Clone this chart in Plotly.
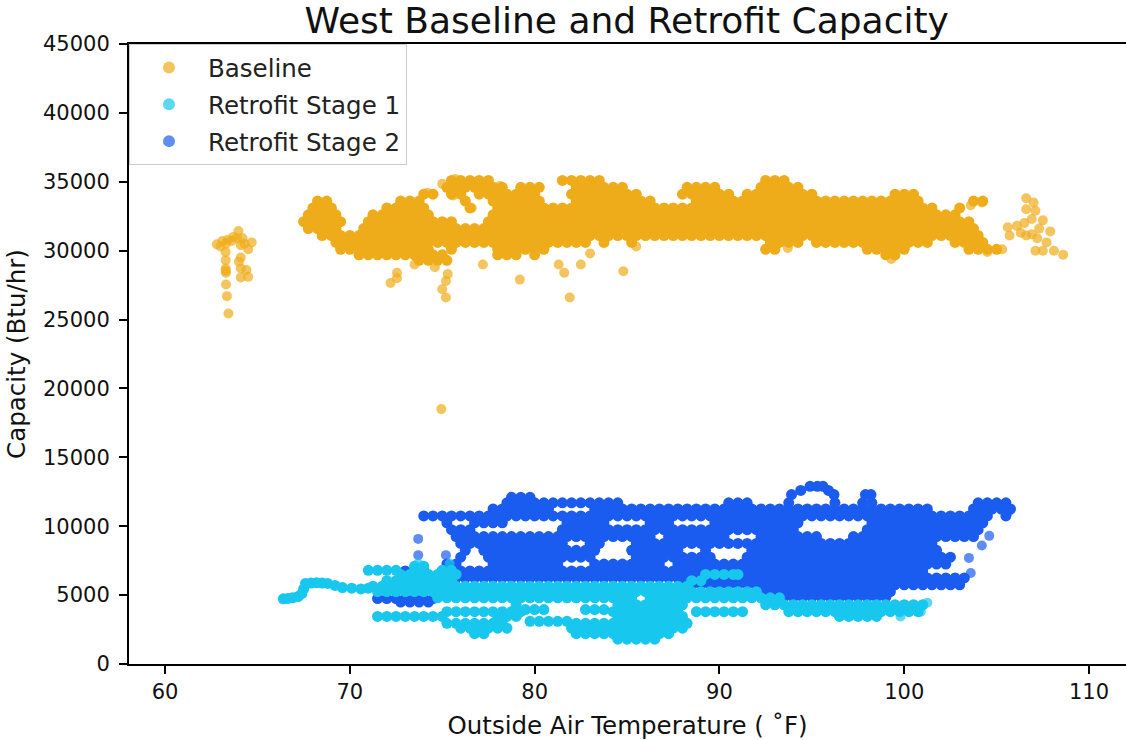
import plotly.graph_objects as go

BASE = "#EFAC1A"
CYAN = "#17C7EE"
BLUE = "#1B5CF0"

baseline_rows = [
 (35100,[75.5,76.0,76.5,77.0,77.5,81.5,82.0,82.5,83.0,83.5,92.5,93.0,93.5]),
 (34600,[75.25,75.75,76.25,76.75,77.25,77.75,78.25,79.25,79.75,80.25,82.25,82.75,83.25,83.75,84.25,84.75,88.25,88.75,89.25,89.75,92.25,92.75,93.25,93.75,94.25]),
 (34100,[74.0,74.5,75.5,76.0,77.0,77.5,78.0,78.5,79.0,79.5,80.0,82.0,82.5,83.0,83.5,84.0,84.5,85.0,85.5,88.0,88.5,89.0,89.5,90.0,90.5,91.5,92.0,92.5,93.0,93.5,94.0,94.5,95.0,99.5,100.0,100.5]),
 (33600,[68.25,68.75,72.75,73.25,73.75,76.25,77.75,78.25,78.75,79.25,79.75,80.25,82.25,82.75,83.25,83.75,84.25,84.75,85.25,85.75,86.25,88.75,89.25,89.75,90.25,90.75,91.25,91.75,92.25,92.75,93.25,93.75,94.25,94.75,95.25,95.75,96.25,96.75,97.25,97.75,98.25,98.75,99.25,99.75,100.25,100.75,103.75,104.25]),
 (33100,[68.0,68.5,69.0,72.0,72.5,73.0,73.5,74.0,76.5,78.0,78.5,79.0,79.5,80.0,80.5,81.0,81.5,82.0,82.5,83.0,83.5,84.0,84.5,85.0,85.5,86.0,86.5,87.0,87.5,88.0,88.5,89.0,89.5,90.0,90.5,91.0,91.5,92.0,92.5,93.0,93.5,94.0,94.5,95.0,95.5,96.0,96.5,97.0,97.5,98.0,98.5,99.0,99.5,100.0,100.5,101.0,101.5,103.0]),
 (32600,[67.75,68.25,68.75,69.25,71.25,71.75,72.25,72.75,73.25,73.75,74.25,77.75,78.25,78.75,79.25,79.75,80.25,80.75,81.25,81.75,82.25,82.75,83.25,83.75,84.25,84.75,85.25,85.75,86.25,86.75,87.25,87.75,88.25,88.75,89.25,89.75,90.25,90.75,91.25,91.75,92.25,92.75,93.25,93.75,94.25,94.75,95.25,95.75,96.25,96.75,97.25,97.75,98.25,98.75,99.25,99.75,100.25,100.75,101.25,101.75,102.25,102.75]),
 (32100,[67.5,68.0,68.5,69.0,69.5,71.0,71.5,72.0,72.5,73.0,73.5,74.0,74.5,75.0,75.5,77.5,78.0,78.5,79.0,79.5,80.0,80.5,81.0,81.5,82.0,82.5,83.0,83.5,84.0,84.5,85.0,85.5,86.0,86.5,87.0,87.5,88.0,88.5,89.0,89.5,90.0,90.5,91.0,91.5,92.0,92.5,93.0,93.5,94.0,94.5,95.0,95.5,96.0,96.5,97.0,97.5,98.0,98.5,99.0,99.5,100.0,100.5,101.0,101.5,102.0,102.5,103.0,103.5]),
 (31600,[67.75,68.25,68.75,69.25,70.75,71.25,71.75,72.25,72.75,73.25,73.75,74.25,74.75,75.25,75.75,76.25,76.75,77.25,77.75,78.25,78.75,79.25,79.75,80.25,80.75,81.25,81.75,82.25,82.75,83.25,83.75,84.25,84.75,85.25,85.75,86.25,86.75,87.25,87.75,88.25,88.75,89.25,89.75,90.25,90.75,91.25,91.75,92.25,92.75,93.25,93.75,94.25,94.75,95.25,95.75,96.25,96.75,97.25,97.75,98.25,98.75,99.25,99.75,100.25,100.75,101.25,101.75,102.25,102.75,103.25,103.75]),
 (31100,[68.5,69.0,69.5,70.0,70.5,71.0,71.5,72.0,72.5,73.0,73.5,74.0,74.5,75.0,75.5,76.0,76.5,77.0,77.5,78.0,78.5,79.0,79.5,80.0,80.5,81.0,81.5,82.0,82.5,83.0,83.5,84.0,84.5,85.0,85.5,86.0,86.5,87.0,87.5,88.0,88.5,89.0,89.5,90.0,90.5,91.0,91.5,92.0,92.5,93.0,93.5,94.0,94.5,95.0,95.5,96.0,96.5,97.0,97.5,98.0,98.5,99.0,99.5,100.0,100.5,101.0,101.5,102.0,102.5,103.0,103.5,104.0]),
 (30600,[69.25,69.75,70.25,70.75,71.25,71.75,72.25,72.75,73.25,73.75,74.25,74.75,75.25,75.75,76.25,76.75,77.25,77.75,78.25,78.75,79.25,79.75,80.25,80.75,81.25,81.75,82.25,82.75,83.75,85.25,92.75,93.25,93.75,94.25,95.25,95.75,96.25,96.75,97.25,97.75,98.25,98.75,99.25,99.75,100.25,100.75,101.25,102.75,103.25,103.75,104.25]),
 (30100,[69.5,70.0,70.5,71.0,71.5,72.0,72.5,73.0,73.5,74.0,74.25,75.5,78.0,78.5,79.0,79.5,80.0,80.5,92.5,93.0,98.0,98.5,99.0,99.5,100.0,103.5,104.0,104.5,105.0]),
 (29700,[70.5,71.0,71.5,72.0,72.5,73.0,73.5,74.0,74.5,75.0,78.0,78.5,79.0,80.0,99.0,99.5]),
 (29300,[73.75,74.25,74.75,75.25]),
]
baseline_stray_x = [74.95,84.8,81.9,79.2,72.2,72.55,72.55,73.5,74.6,75.3,75.2,75.0,75.2,77.2,81.3,81.6,82.5,83.0,85.5,93.7,99.3,105.3,104.5,
 62.8,63.1,63.4,63.7,63.97,64.2,64.69,64.5,63.28,63.28,63.28,63.3,63.35,63.43,63.3,64.1,64.0,64.1,64.5,64.4,64.1,64.3,63.0,63.3,63.6,63.9,64.1,63.28,
 105.6,105.7,106.1,106.6,107.0,106.6,107.1,106.5,107.5,107.9,106.6,107.2,107.7,107.1,107.5,108.1,108.6,106.9,107.3,106.3,106.9,
 103.6,104.2,74.2,75.0,75.7,76.7,77.3,78.1,75.6,76.6,78.0]
baseline_stray_y = [18500,28500,26600,27900,27650,28000,28400,29000,28800,28300,27800,27200,26600,29000,29000,28400,29000,29800,30300,30200,29400,30100,29900,
 30470,30700,30800,31000,31430,30900,30600,30100,29900,29300,28700,28400,26700,25440,27550,28050,29200,29500,28100,28600,28700,30500,30300,30500,30700,30900,30400,28550,
 31700,31100,31800,33800,33500,33000,32900,32000,32200,31400,31100,30900,30600,30000,30000,30000,29700,32300,31600,31300,31200,
 33300,33500,34200,34850,35200,35000,35000,34700,34000,33100,33400]

stage2_rows = [
 (12900,[94.9,95.3,95.6]),
 (12600,[94.4,95.9]),
 (12300,[93.9,96.2,97.9,98.2]),
 (12100,[78.75,79.25,79.75]),
 (11700,[78.5,79.0,79.5,80.0,80.5,81.0,81.5,82.0,82.5,83.0,83.5,84.0,84.5,90.5,91.0,91.5,93.75,96.25,97.75,98.25,104.0,104.5,105.0,105.5]),
 (11250,[77.75,78.25,78.75,79.25,79.75,80.25,80.75,83.25,83.75,84.25,84.75,85.25,85.75,86.25,86.75,87.25,87.75,88.25,88.75,89.25,89.75,90.25,90.75,91.25,91.75,92.25,92.75,93.25,93.75,94.25,94.75,95.25,95.75,96.25,96.75,97.25,97.75,98.25,98.75,99.25,99.75,100.25,100.75,101.25,103.75,104.25,104.75,105.25,105.75]),
 (10750,[74.0,74.5,75.0,75.5,76.0,76.5,77.0,77.5,78.0,78.5,79.0,79.5,80.0,80.5,81.0,81.5,82.0,82.5,83.0,83.5,84.0,84.5,85.0,85.5,86.0,86.5,87.0,87.5,88.0,88.5,89.0,89.5,90.0,90.5,91.0,91.5,92.0,92.5,93.0,93.5,94.0,94.5,95.0,95.5,96.0,96.5,97.0,97.5,98.0,98.5,99.0,99.5,100.0,100.5,101.0,101.5,102.0,102.5,103.0,103.5,104.0,104.5,105.5]),
 (10250,[75.25,76.75,77.25,77.75,78.25,81.75,82.25,82.75,83.25,83.75,86.25,86.75,87.25,89.75,90.25,90.75,91.25,91.75,92.25,92.75,93.25,93.75,94.25,98.25,98.75,99.25,99.75,100.25,100.75,101.25,101.75,102.25,102.75,103.25,103.75,104.25]),
 (9750,[75.5,76.0,76.5,81.5,82.0,82.5,83.0,83.5,84.0,84.5,85.0,85.5,86.0,86.5,87.0,87.5,88.0,88.5,89.0,89.5,90.0,90.5,91.0,91.5,92.0,92.5,93.0,93.5,94.0,98.0,98.5,99.0,99.5,100.0,100.5,101.0,101.5,102.0,102.5,103.0,103.5,104.0]),
 (9250,[75.75,76.25,76.75,77.25,77.75,78.25,78.75,79.25,79.75,80.25,80.75,81.25,81.75,82.25,82.75,83.25,83.75,84.25,84.75,85.25,85.75,86.25,87.25,87.75,88.25,88.75,89.25,89.75,90.25,92.25,92.75,93.25,93.75,94.25,94.75,95.25,97.25,97.75,98.25,98.75,99.25,99.75,100.25,100.75,101.25,101.75,102.25,102.75,103.25,103.75]),
 (8750,[76.0,76.5,77.0,77.5,78.0,78.5,79.0,79.5,80.0,80.5,81.0,81.5,83.0,83.5,85.5,86.0,86.5,87.0,87.5,88.0,88.5,89.0,89.5,90.0,90.5,91.0,91.5,92.0,92.5,93.0,93.5,94.0,94.5,95.0,95.5,96.0,96.5,97.0,97.5,98.0,98.5,99.0,99.5,100.0,100.5,101.0,101.5]),
 (8250,[76.25,77.25,77.75,78.25,78.75,79.25,79.75,80.25,80.75,81.25,81.75,82.25,82.75,83.25,85.25,85.75,86.25,86.75,87.25,87.75,89.25,91.75,92.25,92.75,93.25,93.75,94.25,94.75,95.25,95.75,96.25,96.75,97.25,97.75,98.25,98.75,99.25,99.75,100.25,100.75,101.25,101.75]),
 (7750,[76.0,77.5,78.0,78.5,79.0,79.5,80.0,80.5,81.0,81.5,82.0,82.5,83.0,85.5,86.0,86.5,87.0,87.5,88.0,88.5,89.0,89.5,91.5,92.0,92.5,93.0,93.5,94.0,94.5,95.0,95.5,96.0,96.5,97.0,97.5,98.0,98.5,99.0,99.5,100.0,100.5,101.0,101.5,102.0,102.5]),
 (7250,[75.25,75.75,77.75,78.25,78.75,79.25,79.75,80.25,80.75,81.25,83.25,83.75,84.25,84.75,85.25,85.75,86.25,86.75,87.75,88.25,88.75,89.25,89.75,90.25,90.75,91.25,91.75,92.25,92.75,93.25,93.75,94.25,94.75,95.25,95.75,96.25,96.75,97.25,97.75,98.25,98.75,99.25,99.75,100.25,100.75,101.25,101.75,102.25]),
 (6750,[73.0,73.5,75.0,75.5,76.0,76.5,77.0,77.5,78.0,78.5,79.0,79.5,80.0,80.5,81.0,81.5,82.0,82.5,83.0,83.5,84.0,84.5,85.0,85.5,86.0,86.5,87.0,87.5,88.0,88.5,89.0,89.5,90.0,90.5,91.0,91.5,92.0,92.5,93.0,93.5,94.0,94.5,95.0,95.5,96.0,96.5,97.0,97.5,98.0,98.5,99.0,99.5,100.0,100.5,101.0]),
 (6250,[72.75,73.25,73.75,74.25,74.75,75.25,75.75,76.25,76.75,77.25,77.75,78.25,78.75,79.25,79.75,80.25,80.75,81.25,81.75,82.25,82.75,83.25,83.75,84.25,84.75,85.25,85.75,86.25,86.75,87.25,87.75,88.25,88.75,89.25,89.75,90.25,90.75,91.25,91.75,92.25,92.75,93.25,93.75,94.25,94.75,95.25,95.75,96.25,96.75,97.25,97.75,98.25,98.75,99.25,99.75,100.25,100.75,101.25,101.75,102.25,102.75,103.25]),
 (5750,[88.0,88.5,89.0,89.5,90.0,90.5,91.0,91.5,92.0,92.5,93.0,93.5,94.0,94.5,95.0,95.5,96.0,96.5,97.0,97.5,98.0,98.5,99.0,99.5,100.0,100.5,101.0,101.5,102.0,102.5,103.0]),
 (5250,[92.25,92.75,93.25,93.75,94.25,94.75,95.25,95.75,96.25,96.75,97.25,97.75,98.25,98.75,99.25]),
 (4850,[93.0,93.5,94.0,94.5,95.0,95.5,96.0,96.5,97.0,97.5,98.0,98.5,99.0]),
 (4750,[71.5,72.0,72.5,73.0,73.5,74.0,74.5]),
 (4500,[72.75,73.25,73.75,74.25]),
]
stage2_stray_x = [73.7,73.7,75.2,103.5,104.2,104.6,103.6,105.6,105.6]
stage2_stray_y = [9080,7900,7900,7700,8600,9300,6600,11000,11300]

stage1_rows = [
 (7100,[73.5,74.0]),
 (6800,[71.0,71.5,72.0,72.5,73.5,74.0,75.0,75.5]),
 (6500,[72.75,73.25,73.75,74.25,74.75,75.25,75.75,89.25,89.75,90.25,90.75,91.0]),
 (6050,[72.0,72.5,73.0,73.5,74.0,74.5,75.0,75.5,88.5,89.0]),
 (5650,[71.25,71.75,72.25,72.75,73.25,73.75,74.25,74.75,75.25,75.75,76.25,76.75,77.25,77.75,78.25,78.75,79.25,79.75,80.25,80.75,81.25,81.75,82.25,82.75,83.25,83.75,84.25,84.75,85.25,85.75,86.25,86.75,87.25,87.75,88.25]),
 (5250,[71.5,72.0,72.5,73.0,73.5,74.0,74.5,75.0,75.5,76.0,76.5,77.0,77.5,78.0,78.5,79.0,79.5,80.0,80.5,81.0,81.5,82.0,82.5,83.0,83.5,84.0,84.5,85.0,85.5,86.0,86.5,87.0,87.5,88.0,88.5,89.0,89.5,90.0,90.5,91.0,91.5,92.0]),
 (4800,[74.75,75.25,75.75,76.25,76.75,77.25,77.75,78.25,78.75,79.25,79.75,80.25,80.75,81.25,81.75,82.25,82.75,83.25,83.75,84.25,84.75,85.25,86.25,86.75,87.25,87.75,88.25,88.75,89.25,89.75,90.25,90.75,91.25,91.75,92.25,92.75,93.25]),
 (4300,[79.0,84.5,85.0,85.5,86.0,86.5,87.0,87.5,88.0,92.5,93.0,93.5,94.0,94.5,95.0,95.5,96.0,96.5,97.0,97.5,98.0,98.5,99.0,99.5,100.0,100.5,101.0]),
 (3950,[79.5,80.0,80.5,82.75,83.25,83.75]),
 (3800,[75.25,75.75,76.25,76.75,77.25,77.75,78.25,78.75,79.25,84.25,84.75,85.25,85.75,86.25,86.75,87.25,87.75,88.75,89.25,89.75,90.25,90.75,91.25,93.75,94.25,94.75,95.25,95.75,96.25,96.75,97.25,97.75,98.25,98.75,99.25,99.75,100.25,100.75]),
 (3450,[71.5,72.0,72.5,73.0,73.5,74.0,74.5,75.0,78.0,78.5,79.0,84.5,85.0,85.5,86.0,86.5,87.0,87.5,88.0,96.5,97.0,97.5,98.0,98.5]),
 (3100,[79.75,80.25,80.75,81.25,81.75]),
 (2950,[75.25,75.75,76.25,76.75,77.25,77.75,78.25,82.25,82.75,83.25,83.75,84.25,84.75,85.25,85.75,86.25,86.75,87.25,87.75,88.25]),
 (2600,[76.0,76.5,77.0,77.5,78.0,78.5,82.0,82.5,83.0,83.5,84.0,84.5,85.0,85.5,86.0,86.5,87.0,87.5,88.0]),
 (2200,[76.75,77.25,82.25,82.75,83.25,83.75,84.25,84.75,85.25,85.75,86.25,86.75,87.25]),
 (1800,[84.5,85.0,85.5,86.0,86.5]),
]
stage1_track_x = [66.4,66.65,66.9,67.2,67.4,67.5,67.6,67.9,68.2,68.5,68.8,69.2,69.6,70.1,70.6,71.0]
stage1_track_y = [4730,4760,4800,4900,5100,5450,5850,5880,5900,5880,5850,5700,5550,5500,5450,5500]
stage1_stray_x = [101.25,100.9,99.8,73.7,75.4]
stage1_stray_y = [4450,3800,3450,7300,7300]

x_ticks = [60, 70, 80, 90, 100, 110]
y_ticks = [0, 5000, 10000, 15000, 20000, 25000, 30000, 35000, 40000, 45000]


def expand(rows):
    xs = [x for _, row in rows for x in row]
    ys = [y for y, row in rows for _ in row]
    return xs, ys


def add(name, rows, extra_x, extra_y, sx, sy, color, rank):
    cx, cy = expand(rows)
    fig.add_trace(go.Scatter(x=cx + extra_x, y=cy + extra_y, mode="markers", legendgroup=name, showlegend=False,
                             hoverinfo="skip", marker=dict(size=11, color=color, opacity=1, line=dict(width=0))))
    fig.add_trace(go.Scatter(x=sx, y=sy, mode="markers", name=name, legendgroup=name, legendrank=rank,
                             marker=dict(size=10, color=color, opacity=0.7, line=dict(width=0))))


fig = go.Figure()
add("Baseline", baseline_rows, [], [], baseline_stray_x, baseline_stray_y, BASE, 1)
add("Retrofit Stage 2", stage2_rows, [], [], stage2_stray_x, stage2_stray_y, BLUE, 3)
add("Retrofit Stage 1", stage1_rows, stage1_track_x, stage1_track_y, stage1_stray_x, stage1_stray_y, CYAN, 2)

axis_common = dict(showgrid=False, zeroline=False, showline=True, linecolor="black", linewidth=2,
                   ticks="outside", ticklen=8, tickwidth=2, tickcolor="black",
                   tickfont=dict(family="DejaVu Sans", size=21, color="#111"))
fig.update_xaxes(range=[58.05, 112], tickvals=x_ticks, mirror=True,
                 title=dict(text="Outside Air Temperature ( ˚F)", font=dict(family="DejaVu Sans", size=24.5, color="#111"), standoff=14),
                 **axis_common)
fig.update_yaxes(range=[0, 45000], tickvals=y_ticks, tickformat="d", ticklabelstandoff=5,
                 title=dict(text="Capacity (Btu/hr)", font=dict(family="DejaVu Sans", size=24.5, color="#111"), standoff=10),
                 **axis_common)
fig.update_layout(
    width=1126, height=740, autosize=False, plot_bgcolor="white", paper_bgcolor="white",
    margin=dict(l=129, r=0, t=44, b=76),
    title=dict(text="West Baseline and Retrofit Capacity", font=dict(family="DejaVu Sans", size=36, color="#111"),
               x=0.5565, xanchor="center", y=0.973, yanchor="middle"),
    legend=dict(x=0, y=1, xanchor="left", yanchor="top", bgcolor="rgba(255,255,255,0.8)", bordercolor="#ccc", borderwidth=1,
                font=dict(family="DejaVu Sans", size=24.5, color="#222"), itemsizing="constant", tracegroupgap=2, itemwidth=68),
)
fig.write_html("out.html", config=dict(displayModeBar=False),
               post_script="document.body.style.margin='0';document.body.style.overflow='hidden';")
